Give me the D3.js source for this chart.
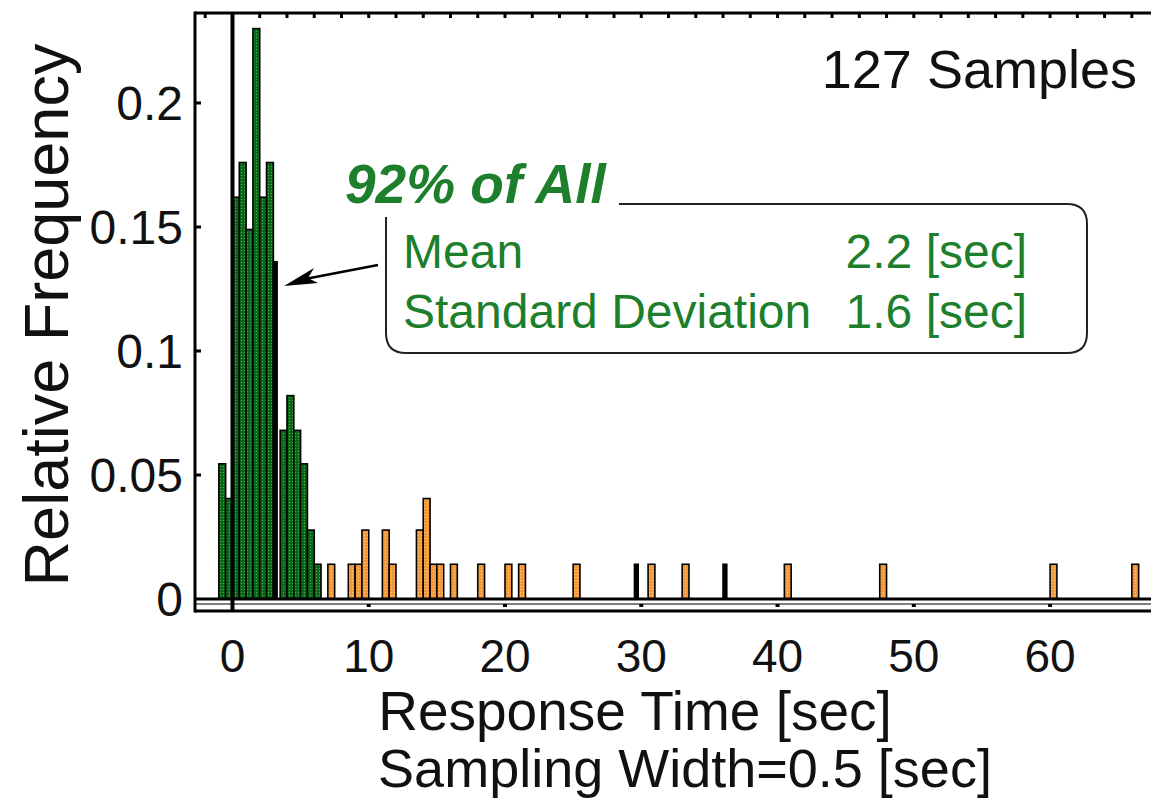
<!DOCTYPE html>
<html>
<head>
<meta charset="utf-8">
<script src="https://cdn.jsdelivr.net/npm/d3@7"></script>
<style>
  body { margin: 0; background: #fff; }
  text { font-family: "Liberation Sans", Arial, Helvetica, sans-serif; }
</style>
</head>
<body>
<div id="chart"></div>
<script>
// histogram bins (left edge, 0.5 sec wide) and relative frequencies
const coreBins = [-1, -0.5, 0, 0.5, 1, 1.5, 2, 2.5, 3, 3.5, 4, 4.5, 5, 5.5, 6];
const coreFreq = [0.0545, 0.0405, 0.162, 0.176, 0.149, 0.230, 0.162, 0.176, 0.136, 0.068, 0.082, 0.068, 0.0545, 0.0278, 0.014];
const tailBins = [7, 8.5, 9, 9.5, 11, 11.5, 13.5, 14, 14.5, 15, 16, 18, 20, 21, 25, 29.5, 30.5, 33, 36, 40.5, 47.5, 60, 66];
const tailFreq = [0.014, 0.014, 0.014, 0.0278, 0.0278, 0.014, 0.0278, 0.0405, 0.014, 0.014, 0.014, 0.014, 0.014, 0.014, 0.014, 0.014, 0.014, 0.014, 0.014, 0.014, 0.014, 0.014, 0.014];
// bins that show up as solid black slivers
const darkBins = [3, 29.5, 36];
const binWidth = 0.5;

const xTicks = [0, 10, 20, 30, 40, 50, 60];
const yTicks = [0, 0.05, 0.1, 0.15, 0.2];
const yTickLabels = ["0", "0.05", "0.1", "0.15", "0.2"];

const statLabels = ["Mean", "Standard Deviation"];
const statValues = ["2.2 [sec]", "1.6 [sec]"];

const W = 1151, H = 802;
const plot = {left: 195, top: 13, bottom: 611, right: 1155};

const svg = d3.select("#chart").append("svg")
  .attr("width", W)
  .attr("height", H);

svg.append("rect").attr("width", W).attr("height", H).attr("fill", "#fff");

// stippled fills
const defs = svg.append("defs");
function stipple(id, base, dot) {
  const p = defs.append("pattern")
    .attr("id", id)
    .attr("width", 3).attr("height", 3)
    .attr("patternUnits", "userSpaceOnUse");
  p.append("rect").attr("width", 3).attr("height", 3).attr("fill", base);
  p.append("rect").attr("x", 1).attr("y", 1).attr("width", 1).attr("height", 1).attr("fill", dot);
}
stipple("greenDots", "#0e661b", "#42b846");
stipple("orangeDots", "#f4983a", "#ffd27e");

const x = d3.scaleLinear()
  .domain([-2.75, 67.7])
  .range([plot.left, plot.right]);

const y = d3.scaleLinear()
  .domain([0, 0.2])
  .range([599, 103]);

const bars = coreBins.map((b, i) => ({bin: b, freq: coreFreq[i], kind: "core"}))
  .concat(tailBins.map((b, i) => ({bin: b, freq: tailFreq[i], kind: "tail"})))
  .map(d => darkBins.includes(d.bin) ? {...d, kind: "dark"} : d);

const fills = {core: "url(#greenDots)", tail: "url(#orangeDots)", dark: "#000"};

svg.append("g")
  .selectAll("rect")
  .data(bars)
  .join("rect")
  .attr("x", d => x(d.bin))
  .attr("y", d => y(d.freq))
  .attr("width", d => (x(d.bin + binWidth) - x(d.bin)) * (d.kind === "dark" ? 0.55 : 1))
  .attr("height", d => y(0) - y(d.freq))
  .attr("fill", d => fills[d.kind])
  .attr("stroke", "#000")
  .attr("stroke-width", 1.6);

// frame
const frame = svg.append("g").attr("stroke", "#000");
frame.append("line")
  .attr("x1", plot.left).attr("x2", plot.left)
  .attr("y1", plot.top - 1.5).attr("y2", plot.bottom + 1.5)
  .attr("stroke-width", 3);
frame.append("line")
  .attr("x1", plot.left).attr("x2", W)
  .attr("y1", plot.top).attr("y2", plot.top)
  .attr("stroke-width", 3);
frame.append("line")
  .attr("x1", plot.left).attr("x2", W)
  .attr("y1", plot.bottom).attr("y2", plot.bottom)
  .attr("stroke-width", 3);
// zero baseline and secondary axis line
frame.append("line")
  .attr("x1", plot.left).attr("x2", W)
  .attr("y1", y(0)).attr("y2", y(0))
  .attr("stroke-width", 3);
frame.append("line")
  .attr("x1", plot.left).attr("x2", W)
  .attr("y1", y(0) + 5).attr("y2", y(0) + 5)
  .attr("stroke-width", 1.2);
// vertical line at x = 0
frame.append("line")
  .attr("x1", x(0)).attr("x2", x(0))
  .attr("y1", plot.top).attr("y2", plot.bottom)
  .attr("stroke-width", 4);

// top minor ticks every 2 sec
svg.append("g")
  .selectAll("rect")
  .data(d3.range(-2, 68, 2).filter(v => v !== 0))
  .join("rect")
  .attr("x", d => x(d) - 1.5)
  .attr("y", plot.top)
  .attr("width", 3)
  .attr("height", 5)
  .attr("fill", "#000");

// bottom tick dots
svg.append("g")
  .selectAll("rect")
  .data(xTicks.filter(v => v !== 0))
  .join("rect")
  .attr("x", d => x(d) - 2)
  .attr("y", y(0) + 5)
  .attr("width", 4)
  .attr("height", 3)
  .attr("fill", "#000");

// left ticks
svg.append("g")
  .selectAll("line")
  .data(yTicks.slice(1))
  .join("line")
  .attr("x1", plot.left)
  .attr("x2", plot.left + 6)
  .attr("y1", d => y(d))
  .attr("y2", d => y(d))
  .attr("stroke", "#000")
  .attr("stroke-width", 3);

// tick labels
svg.append("g")
  .selectAll("text")
  .data(xTicks)
  .join("text")
  .attr("x", d => x(d))
  .attr("y", 672)
  .attr("text-anchor", "middle")
  .attr("font-size", 46)
  .attr("fill", "#111")
  .text(d => d);

svg.append("g")
  .selectAll("text")
  .data(yTicks)
  .join("text")
  .attr("x", 183)
  .attr("y", d => y(d) + 17)
  .attr("text-anchor", "end")
  .attr("font-size", 48)
  .attr("fill", "#111")
  .text((d, i) => yTickLabels[i]);

// axis titles
svg.append("text")
  .attr("transform", "translate(68, 315) rotate(-90)")
  .attr("text-anchor", "middle")
  .attr("font-size", 63)
  .attr("fill", "#111")
  .text("Relative Frequency");

svg.append("text")
  .attr("x", 635)
  .attr("y", 730)
  .attr("text-anchor", "middle")
  .attr("font-size", 55)
  .attr("fill", "#111")
  .text("Response Time [sec]");

svg.append("text")
  .attr("x", 685)
  .attr("y", 787)
  .attr("text-anchor", "middle")
  .attr("font-size", 54)
  .attr("fill", "#111")
  .text("Sampling Width=0.5 [sec]");

svg.append("text")
  .attr("x", 1137)
  .attr("y", 88)
  .attr("text-anchor", "end")
  .attr("font-size", 54)
  .attr("fill", "#111")
  .text("127 Samples");

// annotation box
const green = "#1d7f2c";
svg.append("text")
  .attr("x", 345)
  .attr("y", 203)
  .attr("font-size", 55)
  .attr("font-weight", "bold")
  .attr("font-style", "italic")
  .attr("fill", green)
  .text("92% of All");

const box = {left: 386, top: 204, right: 1087, bottom: 353, r: 20};
svg.append("path")
  .attr("d", `M 619 ${box.top} H ${box.right - box.r}
    Q ${box.right} ${box.top} ${box.right} ${box.top + box.r}
    V ${box.bottom - box.r}
    Q ${box.right} ${box.bottom} ${box.right - box.r} ${box.bottom}
    H ${box.left + box.r}
    Q ${box.left} ${box.bottom} ${box.left} ${box.bottom - box.r}
    V 217`)
  .attr("fill", "none")
  .attr("stroke", "#222")
  .attr("stroke-width", 2);

svg.append("g")
  .selectAll("text")
  .data(statLabels)
  .join("text")
  .attr("x", 403)
  .attr("y", (d, i) => 268 + i * 60)
  .attr("font-size", 48)
  .attr("fill", green)
  .text(d => d);

svg.append("g")
  .selectAll("text")
  .data(statValues)
  .join("text")
  .attr("x", 1027)
  .attr("y", (d, i) => 268 + i * 60)
  .attr("text-anchor", "end")
  .attr("font-size", 48)
  .attr("fill", green)
  .text(d => d);

// arrow pointing at the core of the distribution
svg.append("line")
  .attr("x1", 378).attr("y1", 265)
  .attr("x2", 305).attr("y2", 279)
  .attr("stroke", "#000")
  .attr("stroke-width", 2.5);
svg.append("path")
  .attr("d", "M 284 286 L 314 268 L 308 278 L 318 283 Z")
  .attr("fill", "#000");
</script>
</body>
</html>
